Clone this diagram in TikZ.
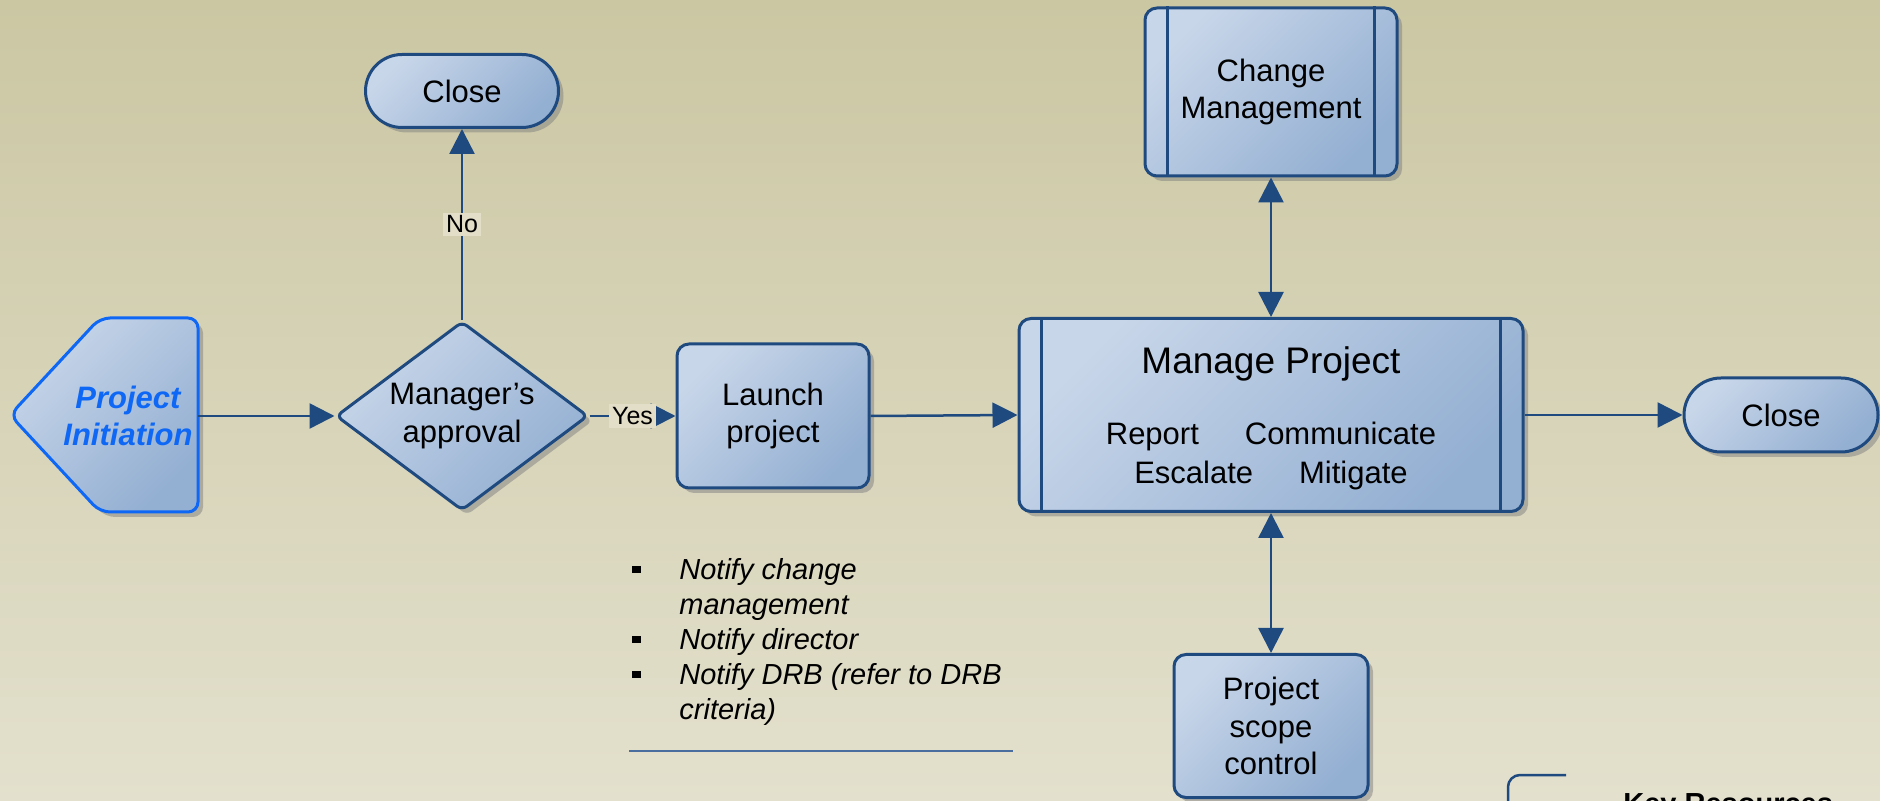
\documentclass[tikz,border=0pt]{standalone}
\usepackage{fontspec}
\setmainfont{Liberation Sans}
\usepackage{xcolor}
\usepackage{tikz}
\usetikzlibrary{arrows.meta,calc}
\usetikzlibrary{positioning,shapes,shadows}

\definecolor{bgtop}{HTML}{CBC7A3}
\definecolor{bgbottom}{HTML}{E3E0CD}
\definecolor{boxlight}{HTML}{C8D6E9}
\definecolor{boxdark}{HTML}{93AFD2}
\definecolor{edgeblue}{HTML}{1F4A80}
\definecolor{initblue}{HTML}{0F68F5}
\definecolor{labelbg}{HTML}{E2DEC7}
\definecolor{rulecol}{HTML}{4A6E9E}

\newcommand{\bodyfont}{\fontsize{15.5}{18.75}\selectfont}
\newcommand{\notebullet}{\raisebox{3.5pt}{\rule{4.5pt}{3.5pt}}}

\begin{document}
\begin{tikzpicture}[x=0.5pt,y=-0.5pt,
    box/.style={draw=edgeblue, line width=1.5pt, top color=boxlight, bottom color=boxdark, shading angle=45,
        drop shadow={shadow xshift=2.5pt, shadow yshift=-2.5pt, fill=black!50, opacity=0.5},
        font=\bodyfont, align=center, inner sep=0pt},
    procbox/.style={box, rectangle, rounded corners=6pt},
    endbox/.style={box, rounded rectangle},
    decisionbox/.style={box, diamond, aspect=1.33, rounded corners=3pt},
    flow/.style={draw=edgeblue, line width=1.25pt, -{Triangle[length=12.5pt,width=12.5pt]}},
    twoway/.style={flow, {Triangle[length=12.5pt,width=12.5pt]}-{Triangle[length=12.5pt,width=12.5pt]}},
    answer/.style={fill=labelbg, inner sep=1.5pt, font=\fontsize{12.5}{15}\selectfont}]

    % Background
    \useasboundingbox (0,0) rectangle (1880,801);
    \fill[top color=bgtop, bottom color=bgbottom] (0,0) rectangle (1880,801);

    % Start
    \draw[box, draw=initblue, rounded corners=5pt] (198,318) -- (100,318) -- (10,415) -- (100,512) -- (198,512) -- cycle;
    \node[font=\bodyfont\bfseries\itshape, text=initblue, align=center, minimum width=70pt, inner sep=0pt] (init) at (128,416) {Project\\Initiation};

    % Boxes
    \node[decisionbox, minimum width=126pt, minimum height=94.5pt] (approval) at (462,416) {Manager’s\\approval};
    \node[endbox, minimum width=96.5pt, minimum height=36.5pt] (closeno) at (462,91) {Close};
    \node[procbox, minimum width=96pt, minimum height=72pt] (launch) at (773,416) {Launch\\project};
    \node[procbox, minimum width=252pt, minimum height=96.5pt] (manage) at (1271,415) {};
    \node[procbox, minimum width=126pt, minimum height=84pt] (change) at (1271,92) {Change\\Management};
    \node[procbox, minimum width=97pt, minimum height=71.5pt] (scope) at (1271,726) {Project\\scope\\control};
    \node[endbox, minimum width=97pt, minimum height=37pt] (closeend) at (1781,415) {Close};

    % Side bars
    \foreach \n in {manage, change} {
        \draw[edgeblue, line width=1.5pt] ($(\n.north west)+(24,0)$) -- ($(\n.south west)+(24,0)$);
        \draw[edgeblue, line width=1.5pt] ($(\n.north east)+(-24,0)$) -- ($(\n.south east)+(-24,0)$);
    }

    % Manage Project text
    \node[font=\fontsize{18.5}{22}\selectfont] (managetitle) at (1271,364) {Manage Project};
    \node[font=\fontsize{15.5}{19.5}\selectfont, align=center] (managetasks) at (1271,456)
        {Report\hspace{23pt}Communicate\\Escalate\hspace{23pt}Mitigate};

    % Connectors
    \draw[flow] (init.east) -- (approval.west);
    \draw[flow] (approval.north) -- node[answer] {No} (closeno.south);
    \draw[flow] (approval.east) -- node[answer] {Yes} (launch.west);
    \draw[flow] (launch.east) -- (manage.west);
    \draw[flow] (manage.east) -- (closeend.west);
    \draw[twoway] (manage.north) -- (change.south);
    \draw[twoway] (manage.south) -- (scope.north);

    % Notes
    \node[anchor=base west, inner sep=0pt, font=\fontsize{14.5}{17.5}\selectfont\itshape] (notes) at (632,580) {%
        \begin{tabular}[t]{@{}l@{\hspace{19pt}}l@{}}
        \notebullet & Notify change\\
                    & management\\
        \notebullet & Notify director\\
        \notebullet & Notify DRB (refer to DRB\\
                    & criteria)
        \end{tabular}};
    \draw[rulecol, line width=0.75pt] (629,751) -- (1013,751);

    % Key Resources
    \draw[edgeblue, line width=1.25pt, rounded corners=6pt] (1566,775) -- (1508,775) -- (1508,830);
    \node[anchor=base west, inner sep=0pt, font=\fontsize{14.5}{17}\selectfont\bfseries] (keyres) at (1623,813) {Key Resources};
\end{tikzpicture}
\end{document}
